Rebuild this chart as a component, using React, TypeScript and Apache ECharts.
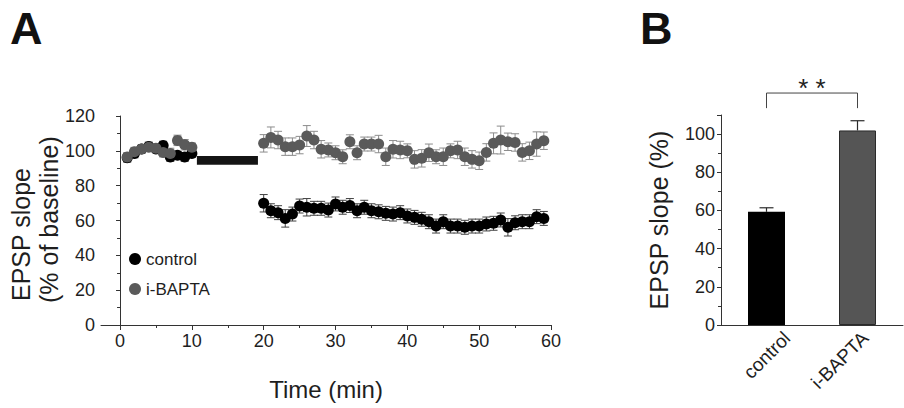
import React, { useEffect, useRef } from "react";
import * as echarts from "echarts";

// ---- Panel A data ----
const timeMin = [
  1, 2, 3, 4, 5, 6, 7, 8, 9, 10,
  20, 21, 22, 23, 24, 25, 26, 27, 28, 29,
  30, 31, 32, 33, 34, 35, 36, 37, 38, 39,
  40, 41, 42, 43, 44, 45, 46, 47, 48, 49,
  50, 51, 52, 53, 54, 55, 56, 57, 58, 59,
];
const controlMean = [
  96, 98.5, 101, 102.5, 101, 103, 96.5, 97.5, 96.5, 98.5,
  69.9, 65.6, 64.5, 61.2, 63.7, 68.3, 67.6, 67, 67, 66,
  69.5, 67.6, 68.6, 65.6, 67.6, 65.6, 65, 64.1, 63.7, 64.5,
  62.6, 61.8, 60.7, 59.3, 56.8, 59.3, 56.8, 56.8, 56.1, 56.8,
  56.8, 58, 58.4, 60.3, 56.1, 58.7, 59.3, 59.3, 62.2, 61.2,
];
const controlSem = [
  2.5, 2.5, 2, 2.5, 2, 2.5, 2.5, 2, 2.5, 2,
  5, 4, 4, 5, 4, 4, 5, 4, 4, 4,
  4, 4, 4, 4, 4, 4, 4, 4, 4, 4,
  4, 4, 4, 4, 4, 4, 4, 4, 4, 4,
  4, 4, 4, 4, 5, 4, 4, 4, 4, 4,
];
const baptaMean = [
  96.5, 99.5, 101, 102, 101.5, 99, 98.5, 106, 103.5, 102,
  104.3, 107.7, 106.2, 102.4, 102.4, 103.3, 108.5, 106.2, 100.9, 100.5,
  98.9, 96.6, 105.2, 98.9, 103.9, 103.9, 103.9, 96.6, 100.9, 100.5,
  100, 95.1, 95.7, 98.9, 96.6, 96.6, 100, 100.5, 96.6, 95.1,
  94.3, 99.1, 104.3, 106.2, 105.2, 104.8, 99.1, 100, 103.9, 105.8,
];
const baptaSem = [
  2.5, 2.5, 2.5, 2, 2.5, 2.5, 3, 3, 3, 2.5,
  5, 6, 5, 5, 5, 5, 6, 5, 5, 4,
  4, 4, 4, 4, 4, 4, 5, 5, 5, 5,
  4, 5, 5, 5, 4, 5, 4, 5, 5, 5,
  5, 5, 6, 8, 5, 5, 5, 5, 7, 5,
];
const drugWindow = [10.7, 19.2];
const drugBarRange = [92, 97];
const xMajorTicks = [0, 10, 20, 30, 40, 50, 60];
const xMinorTicks = [5, 15, 25, 35, 45, 55];
const xMin = -2.65;
const xMax = 60;

// ---- Panel B data ----
const groups = ["control", "i-BAPTA"];
const groupMean = [59.3, 101.9];
const groupSem = [2.1, 5.1];
const bracketLevels = [113.6, 121.5];
const significance = "* *";

const FONT = "'Liberation Sans', Arial, Helvetica, sans-serif";
const AXIS = "#333";
const TXT = "#1e1e1e";

function errorBars(mean: number[], sem: number[], color: string) {
  return {
    type: "custom",
    xAxisIndex: 0,
    yAxisIndex: 0,
    silent: true,
    encode: { x: 0, y: [1, 2] },
    data: timeMin.map((t, i) => [t, mean[i] - sem[i], mean[i] + sem[i]]),
    renderItem: (params: any, api: any) => {
      const x = api.value(0);
      const lo = api.coord([x, api.value(1)]);
      const hi = api.coord([x, api.value(2)]);
      const w = 4;
      const st = { stroke: color, lineWidth: 1 };
      return {
        type: "group",
        children: [
          { type: "line", shape: { x1: lo[0], y1: lo[1], x2: hi[0], y2: hi[1] }, style: st },
          { type: "line", shape: { x1: lo[0] - w, y1: lo[1], x2: lo[0] + w, y2: lo[1] }, style: st },
          { type: "line", shape: { x1: hi[0] - w, y1: hi[1], x2: hi[0] + w, y2: hi[1] }, style: st },
        ],
      };
    },
  };
}

export default function App() {
  const ref = useRef<HTMLDivElement>(null);
  useEffect(() => {
    document.body.style.margin = "0";
    const chart = echarts.init(ref.current!, undefined, { renderer: "svg" });
    const option: any = {
      animation: false,
      textStyle: { fontFamily: FONT },
      title: [
        { text: "A", left: 5, top: 1, textStyle: { fontSize: 45, fontWeight: "bold", color: "#111", fontFamily: FONT } },
        { text: "B", left: 635, top: 1, textStyle: { fontSize: 45, fontWeight: "bold", color: "#111", fontFamily: FONT } },
      ],
      legend: {
        orient: "vertical",
        left: 124,
        top: 245,
        itemWidth: 12,
        itemHeight: 12,
        itemGap: 12,
        selectedMode: false,
        data: [
          { name: "control", icon: "circle" },
          { name: "i-BAPTA", icon: "circle" },
        ],
        textStyle: { fontSize: 17, color: TXT, lineHeight: 18, fontFamily: FONT },
      },
      grid: [
        { left: 101, top: 116, width: 450, height: 209 },
        { left: 721, top: 115, width: 182, height: 210 },
        { left: 748, top: 115, width: 190, height: 210 },
      ],
      xAxis: [
        {
          gridIndex: 0,
          type: "value",
          position: "bottom",
          min: xMin,
          max: xMax,
          splitLine: { show: false },
          axisLine: { show: true, onZero: false, lineStyle: { color: AXIS, width: 1 } },
          axisTick: { show: true, customValues: xMajorTicks, length: 5, lineStyle: { color: AXIS } },
          axisLabel: { customValues: xMajorTicks, fontSize: 18, color: TXT, margin: 7 },
          name: "Time (min)",
          nameLocation: "middle",
          nameGap: 52,
          nameTextStyle: { fontSize: 24, color: TXT },
        },
        {
          gridIndex: 0,
          type: "value",
          position: "bottom",
          min: xMin,
          max: xMax,
          splitLine: { show: false },
          axisLine: { show: false, onZero: false },
          axisTick: { show: true, customValues: xMinorTicks, length: 3, lineStyle: { color: AXIS } },
          axisLabel: { show: false },
        },
        {
          gridIndex: 1,
          type: "category",
          data: groups,
          axisLine: { show: true, lineStyle: { color: AXIS } },
          axisTick: { show: false },
          axisLabel: { show: false },
        },
        {
          gridIndex: 2,
          type: "category",
          data: groups,
          axisLine: { show: false },
          axisTick: { show: false },
          axisLabel: { rotate: 45, fontSize: 19, color: TXT, margin: 10 },
        },
      ],
      yAxis: [
        {
          gridIndex: 0,
          type: "value",
          min: 0,
          max: 120,
          interval: 20,
          splitLine: { show: false },
          axisLine: { show: true, lineStyle: { color: AXIS } },
          axisTick: { show: true, length: 4, lineStyle: { color: AXIS } },
          minorTick: { show: true, splitNumber: 2, length: 3, lineStyle: { color: AXIS } },
          axisLabel: { fontSize: 18, color: TXT, margin: 6 },
        },
        {
          gridIndex: 1,
          type: "value",
          min: 0,
          max: 110,
          interval: 20,
          splitLine: { show: false },
          axisLine: { show: true, lineStyle: { color: AXIS } },
          axisTick: { show: true, length: 4, lineStyle: { color: AXIS } },
          minorTick: { show: true, splitNumber: 2, length: 3, lineStyle: { color: AXIS } },
          axisLabel: { fontSize: 18, color: TXT, margin: 6, showMaxLabel: false },
          name: "EPSP slope (%)",
          nameLocation: "middle",
          nameGap: 50,
          nameTextStyle: { fontSize: 25, color: TXT },
        },
        { gridIndex: 2, type: "value", min: 0, max: 110, show: false },
      ],
      graphic: [
        {
          type: "text",
          x: 21,
          y: 301,
          rotation: Math.PI / 2,
          style: { text: "EPSP slope", fontSize: 25, fontFamily: FONT, fill: TXT, textAlign: "left", textVerticalAlign: "middle" },
        },
        {
          type: "text",
          x: 49,
          y: 303,
          rotation: Math.PI / 2,
          style: { text: "(% of baseline)", fontSize: 25, fontFamily: FONT, fill: TXT, textAlign: "left", textVerticalAlign: "middle" },
        },
      ],
      series: [
        errorBars(controlMean, controlSem, "#404040"),
        errorBars(baptaMean, baptaSem, "#8c8c8c"),
        {
          name: "control",
          type: "scatter",
          xAxisIndex: 0,
          yAxisIndex: 0,
          symbolSize: 11,
          itemStyle: { color: "#000", opacity: 1 },
          data: timeMin.map((t, i) => [t, controlMean[i]]),
          markArea: {
            silent: true,
            itemStyle: { color: "#141414", opacity: 1 },
            data: [[{ xAxis: drugWindow[0], yAxis: drugBarRange[0] }, { xAxis: drugWindow[1], yAxis: drugBarRange[1] }]],
          },
        },
        {
          name: "i-BAPTA",
          type: "scatter",
          xAxisIndex: 0,
          yAxisIndex: 0,
          symbolSize: 11,
          itemStyle: { color: "#5a5a5a", opacity: 1 },
          data: timeMin.map((t, i) => [t, baptaMean[i]]),
        },
        {
          type: "bar",
          xAxisIndex: 2,
          yAxisIndex: 1,
          barWidth: 37,
          silent: true,
          data: [
            { value: groupMean[0], itemStyle: { color: "#000" } },
            { value: groupMean[1], itemStyle: { color: "#555", borderColor: "#2a2a2a", borderWidth: 1 } },
          ],
        },
        {
          type: "custom",
          xAxisIndex: 2,
          yAxisIndex: 1,
          silent: true,
          clip: false,
          data: groups.map((g, i) => [i, groupMean[i], groupMean[i] + groupSem[i]]),
          renderItem: (params: any, api: any) => {
            const x = api.value(0);
            const lo = api.coord([x, api.value(1)]);
            const hi = api.coord([x, api.value(2)]);
            const w = 7;
            const st = { stroke: "#2a2a2a", lineWidth: 1.2 };
            return {
              type: "group",
              children: [
                { type: "line", shape: { x1: lo[0], y1: lo[1], x2: hi[0], y2: hi[1] }, style: st },
                { type: "line", shape: { x1: hi[0] - w, y1: hi[1], x2: hi[0] + w, y2: hi[1] }, style: st },
              ],
            };
          },
        },
        {
          type: "custom",
          xAxisIndex: 2,
          yAxisIndex: 1,
          silent: true,
          clip: false,
          data: [[0, 1, bracketLevels[0], bracketLevels[1]]],
          renderItem: (params: any, api: any) => {
            const a0 = api.coord([api.value(0), api.value(2)]);
            const a1 = api.coord([api.value(0), api.value(3)]);
            const b0 = api.coord([api.value(1), api.value(2)]);
            const b1 = api.coord([api.value(1), api.value(3)]);
            return {
              type: "group",
              children: [
                {
                  type: "polyline",
                  shape: { points: [a0, a1, b1, b0] },
                  style: { stroke: "#444", lineWidth: 1, fill: null },
                },
                {
                  type: "text",
                  x: (a1[0] + b1[0]) / 2,
                  y: a1[1] - 5,
                  style: { text: significance, fontSize: 26, fontFamily: FONT, fill: "#222", textAlign: "center", textVerticalAlign: "middle" },
                },
              ],
            };
          },
        },
      ],
    };
    chart.setOption(option);
    return () => chart.dispose();
  }, []);
  return <div ref={ref} style={{ width: 904, height: 408 }} />;
}
